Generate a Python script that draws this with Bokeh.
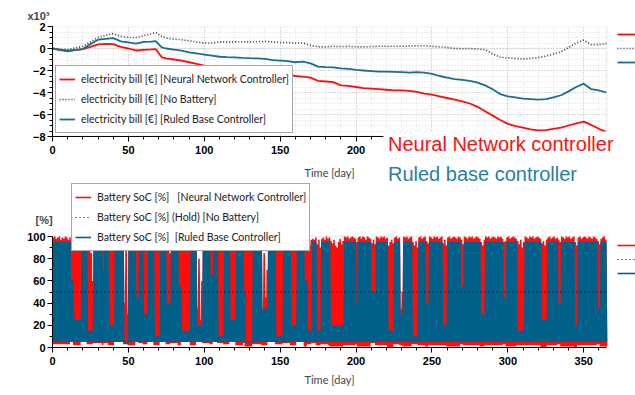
from bokeh.plotting import figure
from bokeh.models import (Legend, LegendItem, Label, FixedTicker, Range1d, Title,
                          BoxAnnotation)
from bokeh.core.properties import value
from bokeh.layouts import column
from bokeh.embed import file_html
from bokeh.resources import INLINE

# ---------------- data: electricity bill (x10^3 EUR) ----------------
bill_days = [0, 5, 10, 15, 20, 25, 30, 35, 40, 45, 50, 55, 60, 65, 68, 72, 75, 80, 85, 90,
             95, 100, 105, 110, 115, 120, 125, 130, 135, 140, 145, 150, 155, 160, 165, 170,
             175, 180, 185, 190, 195, 200, 205, 210, 215, 220, 225, 230, 235, 240, 245, 250,
             255, 260, 265, 270, 275, 280, 285, 290, 295, 300, 305, 310, 315, 320, 325, 330,
             335, 340, 345, 350, 355, 360, 365]
bill_nn = [0.0, -0.1, -0.2, -0.12, -0.05, 0.15, 0.38, 0.42, 0.4, 0.15, 0.0, -0.18, -0.12, -0.08,
           -0.05, -0.8, -0.9, -1.0, -1.1, -1.25, -1.4, -1.55, -1.62, -1.7, -1.8, -1.85, -1.9,
           -1.95, -2.0, -2.05, -2.1, -2.2, -2.35, -2.5, -2.55, -2.65, -2.95, -3.0, -3.05, -3.35,
           -3.4, -3.5, -3.6, -3.65, -3.7, -3.75, -3.8, -3.8, -3.85, -3.95, -4.1, -4.2, -4.35,
           -4.5, -4.65, -4.8, -5.0, -5.3, -5.7, -6.1, -6.5, -6.85, -7.05, -7.2, -7.35, -7.45,
           -7.42, -7.3, -7.2, -7.0, -6.8, -6.65, -6.95, -7.3, -7.6]
bill_nobat = [0.0, -0.1, -0.1, 0.05, 0.2, 0.6, 1.0, 1.2, 1.35, 1.1, 1.0, 1.0, 1.15, 1.35, 1.45,
              1.1, 0.95, 0.85, 0.8, 0.7, 0.6, 0.5, 0.5, 0.6, 0.6, 0.6, 0.62, 0.6, 0.62, 0.65,
              0.6, 0.55, 0.55, 0.5, 0.5, 0.3, 0.15, 0.15, 0.2, 0.18, 0.2, 0.15, 0.15, 0.18, 0.2,
              0.2, 0.2, 0.2, 0.22, 0.25, 0.25, 0.2, 0.15, 0.1, 0.0, -0.02, 0.0, -0.05, -0.1,
              -0.5, -0.8, -0.85, -0.9, -0.95, -0.9, -0.82, -0.7, -0.5, -0.3, 0.1, 0.5, 0.75,
              0.35, 0.35, 0.45]
bill_rb = [0.0, -0.15, -0.25, -0.15, -0.05, 0.4, 0.8, 0.88, 0.95, 0.65, 0.55, 0.45, 0.6, 0.62,
           0.68, 0.1, 0.0, -0.1, -0.2, -0.35, -0.45, -0.55, -0.65, -0.75, -0.78, -0.8, -0.85,
           -0.88, -0.9, -0.95, -1.05, -1.1, -1.15, -1.25, -1.2, -1.35, -1.65, -1.7, -1.72, -1.8,
           -1.85, -1.95, -2.0, -2.05, -2.1, -2.1, -2.12, -2.15, -2.2, -2.15, -2.2, -2.3, -2.5,
           -2.65, -2.78, -2.85, -2.95, -3.1, -3.35, -3.7, -4.15, -4.35, -4.45, -4.55, -4.6,
           -4.65, -4.6, -4.45, -4.25, -3.9, -3.5, -3.2, -3.7, -3.8, -4.0]

# ---------------- data: battery SoC (%) ----------------
# runs of days: ruled-based controller daily peak per run, NN controller daily peaks per run
rb_days = [12, 2, 5, 4, 4, 6, 1, 3, 4, 6, 3, 5, 2, 3, 3, 4, 4, 4, 3, 5, 2, 6, 4, 4, 5, 2, 3, 4,
           4, 4, 5, 1, 5, 6, 4, 5, 5, 5, 4, 5, 2, 3, 3, 3, 5,
           1, 9, 8, 1, 9, 3, 8, 4, 4, 2, 6, 4, 5, 2, 9, 3, 9, 2, 11, 3, 12, 2, 7, 5, 11, 4, 7,
           2, 9, 2, 13, 2, 4]
rb_peak = [95, 60, 25, 95, 15, 95, 70, 95, 20, 95, 5, 95, 45, 95, 30, 95, 10, 95, 40, 95, 55,
           15, 95, 20, 95, 65, 95, 10, 95, 25, 95, 50, 5, 95, 35, 95, 10, 95, 20, 95, 60, 15,
           95, 15, 95,
           95, 20, 95, 40, 95, 50, 95, 15, 95, 30, 95, 10, 95, 40, 95, 20, 95, 55, 95, 30, 95,
           45, 95, 15, 95, 25, 95, 40, 95, 20, 95, 35, 95]
rb_low = 5
nn_peak = [
    [99, 100, 98, 99, 100, 97, 99, 98, 100, 99, 97, 99], [96, 90], [96, 92, 97, 88, 95],
    [97, 99, 96, 98], [90, 97, 85, 60], [98, 96, 99, 97, 100, 95], [96], [98, 99, 96],
    [95, 98, 90, 93], [97, 99, 96, 98, 97, 100], [40, 92, 30], [98, 97, 99, 96, 98], [97, 92],
    [97, 98, 96], [96, 88, 94], [98, 96, 99, 97], [93, 97, 90, 95], [97, 99, 96, 98],
    [92, 96, 85], [97, 98, 96, 99, 97], [95, 97], [93, 96, 88, 97, 91, 95], [98, 96, 99, 97],
    [35, 80, 25, 60], [97, 98, 96, 99, 97], [96, 90], [96, 99, 97], [94, 97, 95, 91],
    [98, 96, 99, 97], [95, 90, 97, 93], [97, 99, 96, 98, 97], [97], [93, 96, 90, 95, 94],
    [98, 97, 99, 96, 98, 97], [30, 85, 45, 70], [97, 99, 96, 98, 97], [92, 97, 95, 90, 96],
    [98, 96, 99, 97, 98], [94, 88, 97, 91], [97, 99, 96, 98, 97], [95, 90], [96, 92, 97],
    [98, 97, 99], [93, 97, 90], [98, 99, 97, 100, 98],
    [99], [96, 94, 97, 92, 90, 95, 98, 93, 96], [100, 99, 100, 98, 99, 100, 99, 98], [95],
    [99, 100, 98, 100, 99, 97, 100, 99, 98], [94, 97, 93], [100, 99, 98, 100, 99, 100, 98, 99],
    [92, 95, 97, 94], [99, 100, 98, 99], [35, 50], [100, 99, 100, 98, 99, 100],
    [95, 92, 96, 90], [99, 100, 98, 99, 100], [96, 94], [100, 99, 98, 100, 99, 100, 98, 99, 100],
    [94, 97, 92], [99, 100, 98, 99, 100, 99, 98, 100, 99], [97, 93],
    [100, 99, 98, 100, 99, 100, 98, 99, 100, 99, 98], [95, 92, 97],
    [100, 99, 100, 98, 99, 100, 99, 98, 100, 99, 100, 98], [95, 96],
    [99, 100, 98, 99, 100, 99, 98], [96, 93, 97, 90, 95],
    [100, 99, 98, 100, 99, 100, 98, 99, 100, 99, 98], [94, 96, 92, 97],
    [99, 100, 98, 99, 100, 98, 99], [97, 95], [100, 99, 98, 100, 99, 100, 98, 99, 100], [95, 92],
    [99, 100, 98, 99, 100, 99, 98, 100, 99, 98, 100, 99, 98], [96, 93], [98, 99, 100, 97]]
nn_low = [3, 5, 2, 6, 3, 4, 2, 4, 2, 6, 3, 2, 5, 4, 3, 5, 2, 5, 3, 4, 2, 5, 2, 6, 4, 3, 5, 4,
          3, 5, 2, 4, 1, 3, 2, 5, 3, 4, 2, 5, 1, 3, 4, 2, 3,
          2, 1, 2, 3, 1, 4, 2, 0, 3, 2, 1, 3, 2, 1, 2, 2, 1, 3, 2, 1, 2, 3, 1, 2, 2, 0, 2, 3,
          1, 0, 2, 3, 1]
soc_hold = 50

x_ticks = [0, 50, 100, 150, 200, 250, 300, 350]
bill_ticks = [-8, -6, -4, -2, 0, 2]
soc_ticks = [0, 20, 40, 60, 80, 100]
DAYS = 365
X_END = 384.1      # frame runs on to the window edge so the right-hand keys can show

RED = "#ff0d0d"
TEAL = "#1a6f8f"
BLUE = "#00628a"
FRAME = "#d2d2d2"
TICKFONT = "Liberation Sans"
TEXTFONT = "Lato"


def expand_rb():
    t, v, d = [], [], 0
    for n, pk in zip(rb_days, rb_peak):
        for _ in range(n):
            t += [d, d + 0.5]
            v += [rb_low, pk]
            d += 1
    t.append(d)
    v.append(rb_low)
    return t, v


def expand_nn():
    t, v, d = [], [], 0
    for run, lo in zip(nn_peak, nn_low):
        for pk in run:
            t += [d, d + 0.5]
            v += [lo, pk]
            d += 1
    t.append(d)
    v.append(nn_low[-1])
    return t, v


def style(p, yticks, yminor, ybounds, time_standoff):
    for ax in (p.xaxis[0], p.yaxis[0]):
        ax.axis_line_color = "black"
        ax.major_tick_line_color = "black"
        ax.minor_tick_line_color = "black"
        ax.major_tick_in = 0
        ax.major_tick_out = 5
        ax.minor_tick_in = 0
        ax.minor_tick_out = 3
        ax.major_label_text_font = TICKFONT
        ax.major_label_text_font_style = "bold"
        ax.major_label_text_font_size = "11px"
        ax.major_label_text_color = "black"
    p.xaxis[0].ticker = FixedTicker(ticks=x_ticks, minor_ticks=list(range(0, DAYS + 1, 10)))
    p.yaxis[0].ticker = FixedTicker(ticks=yticks, minor_ticks=yminor)
    p.xaxis[0].bounds = (0, DAYS)
    p.yaxis[0].bounds = ybounds
    p.xaxis[0].major_label_standoff = 4
    p.yaxis[0].major_label_standoff = 2
    p.outline_line_color = None
    p.add_layout(Title(text="Time [day]", align="left", offset=252, standoff=time_standoff,
                       vertical_align="top", text_font=TEXTFONT, text_font_style="normal",
                       text_font_size="11px"), "below")


def box_legend(items, loc):
    lg = Legend(items=items, location=loc, orientation="vertical")
    lg.label_text_font = TEXTFONT
    lg.label_text_font_size = "10.5px"
    lg.label_text_color = "#222222"
    lg.glyph_width = 16
    lg.glyph_height = 20
    lg.label_height = 20
    lg.spacing = 0
    lg.label_standoff = 6
    lg.margin = 0
    lg.padding = 3
    lg.border_line_color = "#505050"
    lg.border_line_width = 1.5
    lg.background_fill_color = "white"
    lg.background_fill_alpha = 1
    return lg


def key_legend(renderers):
    # right-hand legend whose labels lie beyond the window edge: only the keys show
    items = [LegendItem(label=value(""), renderers=[r]) for r in renderers]
    lg = Legend(items=items, location=(565, 67), orientation="vertical")
    lg.glyph_width = 18
    lg.glyph_height = 14
    lg.label_height = 14
    lg.label_standoff = 0
    lg.spacing = 0
    lg.padding = 0
    lg.margin = 0
    lg.border_line_alpha = 0
    lg.background_fill_alpha = 0
    return lg


# ---------------- top figure ----------------
p1 = figure(width=635, height=266, x_range=Range1d(0, X_END), y_range=Range1d(-8, 2),
            output_backend="svg", toolbar_location=None,
            min_border_left=52, min_border_right=0, min_border_top=26, min_border_bottom=130)
style(p1, bill_ticks, [-8 + 0.5 * i for i in range(21)], (-8, 2), 18)
p1.xgrid.ticker = FixedTicker(ticks=x_ticks, minor_ticks=list(range(0, DAYS + 1, 10)))
p1.ygrid.ticker = FixedTicker(ticks=bill_ticks, minor_ticks=[-8 + 0.5 * i for i in range(21)])
for g in (p1.xgrid, p1.ygrid):
    g.grid_line_color = "#c4c4c4"
    g.grid_line_dash = "1 2"
    g.minor_grid_line_color = "#dcdcdc"
    g.minor_grid_line_dash = "1 2"
# blank the grid beyond the last day, then the zero line and the plot border
p1.add_layout(BoxAnnotation(left=DAYS, fill_color="white", fill_alpha=1, line_alpha=0,
                            level="underlay"))
p1.add_layout(BoxAnnotation(left=0, right=DAYS, bottom=0, top=0, fill_alpha=0,
                            line_color="#d6d6d6", line_width=2, level="underlay"))
p1.add_layout(BoxAnnotation(left=0, right=DAYS, bottom=-8, top=2, fill_alpha=0,
                            line_color=FRAME, line_width=2, level="underlay"))

r_nn = p1.line(bill_days, bill_nn, line_color=RED, line_width=1.8)
r_nb = p1.line(bill_days, bill_nobat, line_color="#333333", line_width=1.6, line_dash="1 2")
r_rb = p1.line(bill_days, bill_rb, line_color=TEAL, line_width=1.8)

p1.add_layout(box_legend([
    LegendItem(label="electricity bill [€] [Neural Network Controller]", renderers=[r_nn]),
    LegendItem(label="electricity bill [€] [No Battery]", renderers=[r_nb]),
    LegendItem(label="electricity bill [€] [Ruled Base Controller]", renderers=[r_rb])],
    (3, 3)), "center")
p1.add_layout(key_legend([r_nn, r_nb, r_rb]), "center")
p1.add_layout(Title(text="x10³", align="left", offset=-25, standoff=10,
                    text_font=TICKFONT, text_font_style="bold", text_font_size="11px"), "above")
p1.add_layout(Title(text="[%]", align="left", offset=-17, standoff=48, vertical_align="top",
                    text_font=TICKFONT, text_font_style="bold", text_font_size="11px"), "below")

# ---------------- bottom figure (transparent above the SoC axes, overlaps the top one) -------
p2 = figure(width=635, height=367, x_range=Range1d(0, X_END), y_range=Range1d(0, 289.2),
            output_backend="svg", toolbar_location=None,
            min_border_left=52, min_border_right=0, min_border_top=0, min_border_bottom=46)
p2.margin = (-240, 0, 0, 0)
p2.background_fill_alpha = 0
p2.border_fill_alpha = 0
style(p2, soc_ticks, list(range(0, 101, 10)), (0, 100), 10)
p2.xgrid.grid_line_color = None
p2.ygrid.grid_line_color = None
p2.add_layout(BoxAnnotation(left=0, right=DAYS, bottom=0, top=100, fill_alpha=0,
                            line_color=FRAME, line_width=2, level="underlay"))

t_nn, v_nn = expand_nn()
t_rb, v_rb = expand_rb()
s_nn = p2.line(t_nn, v_nn, line_color=RED, line_width=1.6)
s_rb = p2.line(t_rb, v_rb, line_color=BLUE, line_width=1.6)
s_nb = p2.line([0, DAYS], [soc_hold, soc_hold], line_color="black", line_width=1.2,
               line_dash="1 3")

# white box holding the two captions, over the end of the upper time axis
p2.add_layout(BoxAnnotation(left=218, bottom=141.4, top=194.6, fill_color="white",
                            fill_alpha=1, line_alpha=0))
p2.add_layout(Label(x=221, y=183, text="Neural Network controller", text_color="#ff1010",
                    text_font="Liberation Sans", text_font_size="20px",
                    text_baseline="alphabetic"))
p2.add_layout(Label(x=221, y=156.5, text="Ruled base controller", text_color="#2a7f9f",
                    text_font="Liberation Sans", text_font_size="20px",
                    text_baseline="alphabetic"))

p2.add_layout(box_legend([
    LegendItem(label="Battery SoC [%]   [Neural Network Controller]", renderers=[s_nn]),
    LegendItem(label="Battery SoC [%] (Hold) [No Battery]", renderers=[s_nb]),
    LegendItem(label="Battery SoC [%]  [Ruled Base Controller]", renderers=[s_rb])],
    (19, 96)), "center")
p2.add_layout(key_legend([s_nn, s_nb, s_rb]), "center")

layout = column(p1, p2, spacing=0)
open("out.html", "w").write(file_html(layout, INLINE))
